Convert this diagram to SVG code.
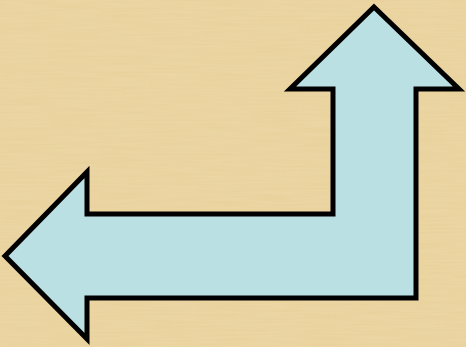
<svg xmlns="http://www.w3.org/2000/svg" width="466" height="347" viewBox="0 0 466 347">
<defs>
<filter id="papyrus" x="0" y="0" width="100%" height="100%">
<feTurbulence type="fractalNoise" baseFrequency="0.5 0.02" numOctaves="2" seed="3" result="n1"/>
<feColorMatrix in="n1" type="matrix" values="0 0 0 0 0.75  0 0 0 0 0.6  0 0 0 0 0.3  0 0 0 0.35 0" result="c1"/>
<feTurbulence type="fractalNoise" baseFrequency="0.02 0.5" numOctaves="2" seed="7" result="n2"/>
<feColorMatrix in="n2" type="matrix" values="0 0 0 0 0.98  0 0 0 0 0.9  0 0 0 0 0.7  0 0 0 0.3 0" result="c2"/>
<feMerge><feMergeNode in="c1"/><feMergeNode in="c2"/></feMerge>
</filter>
<style>
.arrow{fill:#BAE0E3;stroke:#000;stroke-width:5;stroke-linejoin:miter;stroke-miterlimit:10}
</style>
</defs>
<rect width="466" height="347" fill="#E9D19A"/>
<rect width="466" height="347" filter="url(#papyrus)" opacity="0.6"/>
<g id="bent-arrow">
<polygon class="arrow" points="374,7 459,89 416,89 416,298 87,298 87,339 5,256 87,172 87,214 333,214 333,89 290,89"/>
</g>
</svg>
